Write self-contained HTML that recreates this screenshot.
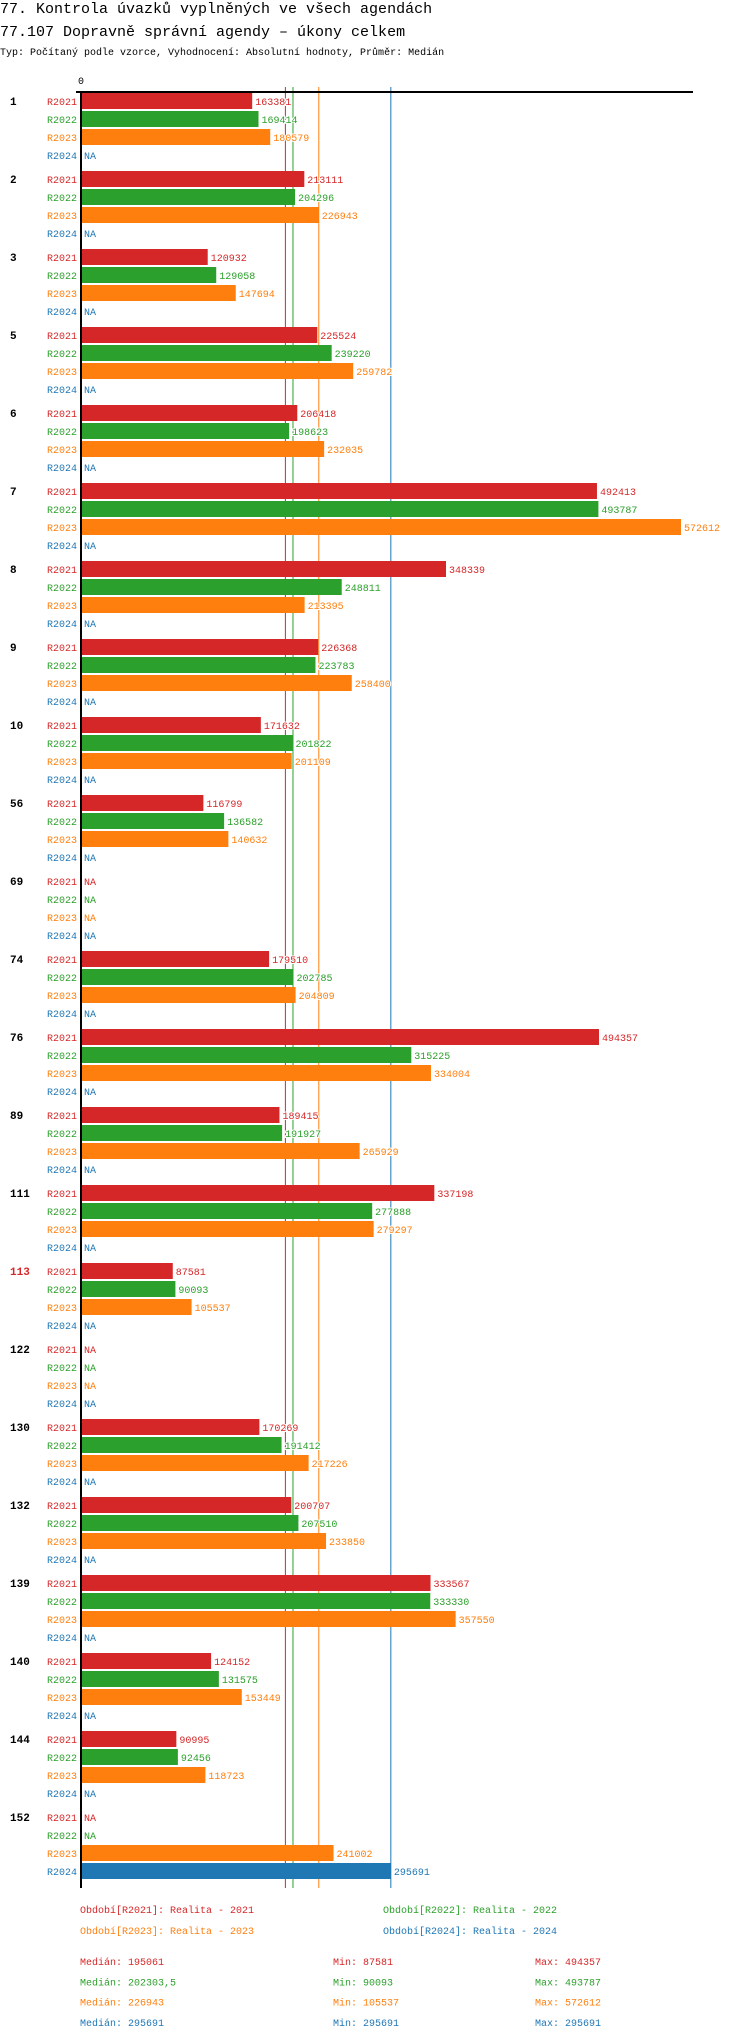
<!DOCTYPE html>
<html><head><meta charset="utf-8">
<style>
body{margin:0;background:#fff;width:750px;height:2036px;overflow:hidden;font-family:"Liberation Mono",monospace;}
svg{position:absolute;left:0;top:0;}
</style></head>
<body>
<svg id="chart" width="750" height="2036" font-family="Liberation Mono, DejaVu Sans Mono, monospace">
<text x="0" y="13" font-size="15" fill="#000">77. Kontrola úvazků vyplněných ve všech agendách</text>
<text x="0" y="36" font-size="15" fill="#000">77.107 Dopravně správní agendy – úkony celkem</text>
<text x="0" y="55" font-size="10" fill="#000">Typ: Počítaný podle vzorce, Vyhodnocení: Absolutní hodnoty, Průměr: Medián</text>
<text x="81" y="84" font-size="10" text-anchor="middle" fill="#000">0</text>
<g id="marks"></g>
</svg>
<script>
const categories=["1","2","3","5","6","7","8","9","10","56","69","74","76","89","111","113","122","130","132","139","140","144","152"];
const seriesNames=["R2021","R2022","R2023","R2024"];
const r2021=[163381,213111,120932,225524,206418,492413,348339,226368,171632,116799,null,179510,494357,189415,337198,87581,null,170269,200707,333567,124152,90995,null];
const r2022=[169414,204296,129058,239220,198623,493787,248811,223783,201822,136582,null,202785,315225,191927,277888,90093,null,191412,207510,333330,131575,92456,null];
const r2023=[180579,226943,147694,259782,232035,572612,213395,258400,201109,140632,null,204809,334004,265929,279297,105537,null,217226,233850,357550,153449,118723,241002];
const r2024=[null,null,null,null,null,null,null,null,null,null,null,null,null,null,null,null,null,null,null,null,null,null,295691];
const medians=[195061,202303.5,226943,295691];
const mins=[87581,90093,105537,295691];
const maxs=[494357,493787,572612,295691];
const medianLabels=["195061","202303,5","226943","295691"];
const highlighted=["113"];

const colors=["#d62728","#2ca02c","#ff7f0e","#1f77b4"];
const series=[r2021,r2022,r2023,r2024];
const x0=81, xMaxPx=600, vMax=572612;
function xs(v){return x0+v/vMax*xMaxPx;}
const top0=93, barH=16, barPitch=18, groupPitch=78;
function ys(g,s){return top0+g*groupPitch+s*barPitch;}
const NS="http://www.w3.org/2000/svg";
const g=document.getElementById('marks');
function el(tag,attrs,txt){const e=document.createElementNS(NS,tag);for(const k in attrs)e.setAttribute(k,attrs[k]);if(txt!==undefined)e.textContent=txt;g.appendChild(e);return e;}
const axisBottom=ys(categories.length-1,3)+barH+9;
// median lines
medians.forEach((m,i)=>{
  const l=el('line',{x1:xs(m),x2:xs(m),y1:87,y2:axisBottom,stroke:colors[i],'stroke-width':1});
  
  
});
categories.forEach((c,gi)=>{
  const t=el('text',{x:10,y:ys(gi,0)+12,'font-size':11,'font-weight':'bold',fill:highlighted.includes(c)?'#d62728':'#000'},c);
  
  
  series.forEach((arr,si)=>{
    const y=ys(gi,si);
    const lab=el('text',{x:77,y:y+12,'font-size':10,'text-anchor':'end',fill:colors[si]},seriesNames[si]);
    
    
    const v=arr[gi];
    if(v===null){
      const na=el('text',{x:84,y:y+12,'font-size':10,fill:colors[si]},'NA');
      
      
    }else{
      const r=el('rect',{x:x0+1,y:y,width:xs(v)-x0-1,height:barH,fill:colors[si]});
      
      
      const vl=el('text',{x:xs(v)+3,y:y+12,'font-size':10,fill:colors[si],stroke:'#fff','stroke-width':2,'paint-order':'stroke'},String(v));
      
      
    }
  });
});
const ax=el('line',{x1:76,x2:693,y1:92,y2:92,stroke:'#000','stroke-width':2});


const ay=el('line',{x1:81,x2:81,y1:91,y2:axisBottom,stroke:'#000','stroke-width':2});


// legend
const legPos=[[80,1913],[383,1913],[80,1934],[383,1934]];
seriesNames.forEach((s,i)=>{
  const t=el('text',{x:legPos[i][0],y:legPos[i][1],'font-size':10,fill:colors[i]},'Období['+s+']: Realita - '+s.slice(1));
  
  
});
seriesNames.forEach((s,i)=>{
  const y=1965+i*20.3;
  const a=el('text',{x:80,y:y,'font-size':10,fill:colors[i]},'Medián: '+medianLabels[i]);
  
  
  const b=el('text',{x:333,y:y,'font-size':10,fill:colors[i]},'Min: '+mins[i]);
  
  
  const d=el('text',{x:535,y:y,'font-size':10,fill:colors[i]},'Max: '+maxs[i]);
  
  
});
</script>
</body></html>
